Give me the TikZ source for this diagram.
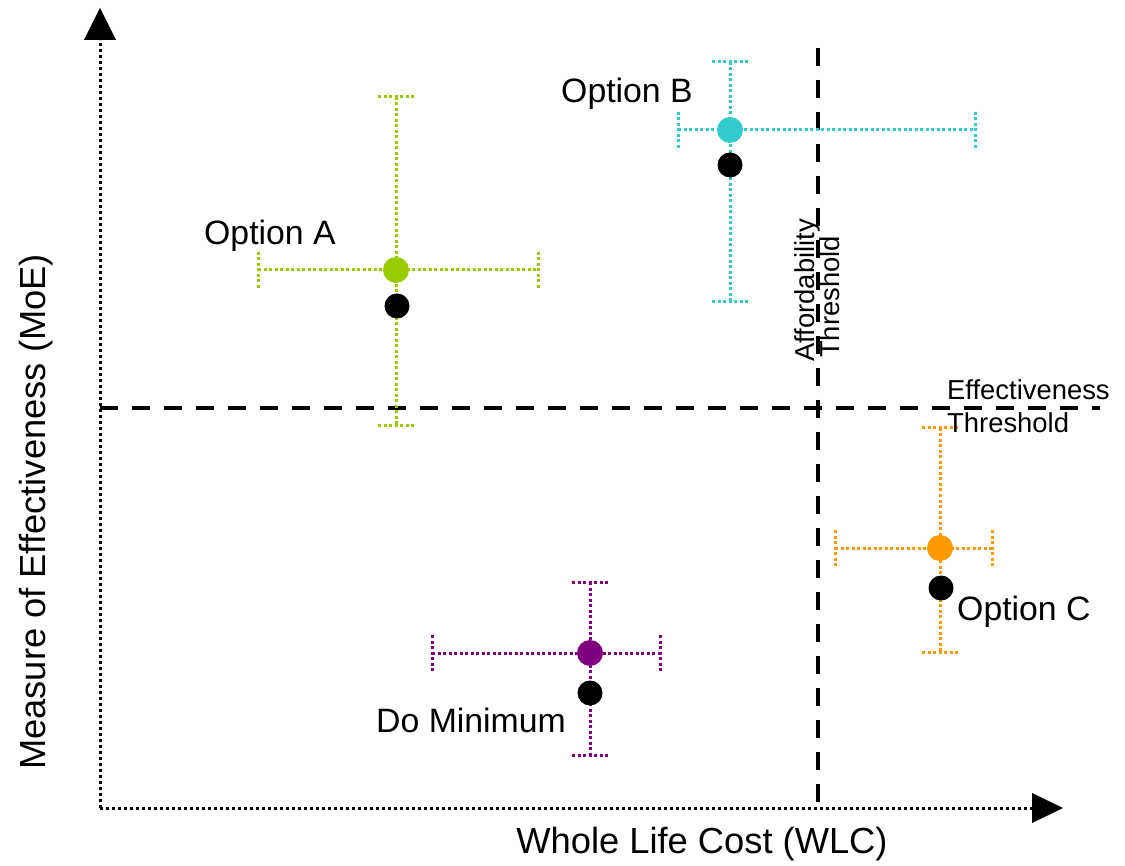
\documentclass[tikz,border=0pt]{standalone}
\usepackage{fontspec}
\setmainfont{Liberation Sans}
\definecolor{optA}{HTML}{99CC00}
\definecolor{optB}{HTML}{33CCCC}
\definecolor{optC}{HTML}{FF9900}
\definecolor{optD}{HTML}{800080}
% error bars of one option: colour, centre x, centre y, left, right, top, bottom
\newcommand\ErrBars[7]{%
  \draw[errbar,#1] (#4,#3) -- (#5,#3);
  \draw[errbar,#1] (#2,#6) -- (#2,#7);
  \draw[errbar,#1] (#4,#3-18) -- (#4,#3+18);
  \draw[errbar,#1] (#5,#3-18) -- (#5,#3+18);
  \draw[errbar,#1] (#2-18,#6) -- (#2+18,#6);
  \draw[errbar,#1] (#2-18,#7) -- (#2+18,#7);
}
\begin{document}
\begin{tikzpicture}[x=1pt,y=-1pt,
  axisline/.style={line width=3pt, dash pattern=on 3pt off 3pt},
  threshold/.style={line width=3.8pt, dash pattern=on 18pt off 14pt},
  errbar/.style={line width=3pt, dash pattern=on 3pt off 2.5pt},
  meanpt/.style={circle, inner sep=0pt, minimum size=26pt},
  basept/.style={circle, fill=black, inner sep=0pt, minimum size=25pt},
  optlabel/.style={font=\fontsize{33.8}{40}\selectfont, inner sep=0pt, anchor=base west},
  thrlabel/.style={font=\fontsize{27.4}{31}\selectfont, inner sep=0pt, anchor=base west},
  axlabel/.style={font=\fontsize{36.3}{43}\selectfont, inner sep=0pt, anchor=base},
]
\useasboundingbox (0,0) rectangle (1125,866);

% axes
\coordinate (O) at (100,808);
\coordinate (Yend) at (100,40);
\coordinate (Ytip) at (100,8);
\coordinate (Xend) at (1032,808);
\coordinate (Xtip) at (1063,808);
\draw[axisline] (O) -- (Yend);
\draw[axisline] (O) -- (Xend);
\fill (Ytip) -- ([xshift=-16pt]Yend) -- ([xshift=16pt]Yend) -- cycle;
\fill (Xtip) -- ([yshift=15pt]Xend) -- ([yshift=-15pt]Xend) -- cycle;

% thresholds
\coordinate (effL) at (100,408);
\coordinate (effR) at (1100,408);
\coordinate (affT) at (818,48);
\coordinate (affB) at (818,808);
\draw[threshold] (effL) -- (effR);
\draw[threshold] (affT) -- (affB);

% error bars
\ErrBars{optA}{396}{270}{258}{538}{97}{426}
\ErrBars{optB}{730}{130}{678}{975}{62}{302}
\ErrBars{optC}{940}{548}{835}{992}{428}{652}
\ErrBars{optD}{590}{653}{432}{660}{582}{755}

% estimated points and base points
\node[meanpt, fill=optA] (A) at (396,270) {};
\node[basept] (A0) at (397,306) {};
\node[meanpt, fill=optB] (B) at (730,130) {};
\node[basept] (B0) at (730,165) {};
\node[meanpt, fill=optC] (C) at (940,548) {};
\node[basept] (C0) at (941,588) {};
\node[meanpt, fill=optD] (D) at (590,653) {};
\node[basept] (D0) at (590,693) {};

% option labels
\node[optlabel] (labA) at (204,245) {Option A};
\node[optlabel] (labB) at (561,103) {Option B};
\node[optlabel] (labC) at (957,620) {Option C};
\node[optlabel] (labD) at (376,732) {Do Minimum};

% threshold labels
\node[thrlabel, rotate=90] (aff1) at (814,362) {Affordability};
\node[thrlabel, rotate=90] (aff2) at (839,358) {Threshold};
\node[thrlabel] (eff1) at (947,400) {Effectiveness};
\node[thrlabel] (eff2) at (947,433) {Threshold};

% axis labels
\node[axlabel] (xlab) at (702,853) {Whole Life Cost (WLC)};
\node[axlabel, rotate=90] (ylab) at (45,512) {Measure of Effectiveness (MoE)};
\end{tikzpicture}
\end{document}
